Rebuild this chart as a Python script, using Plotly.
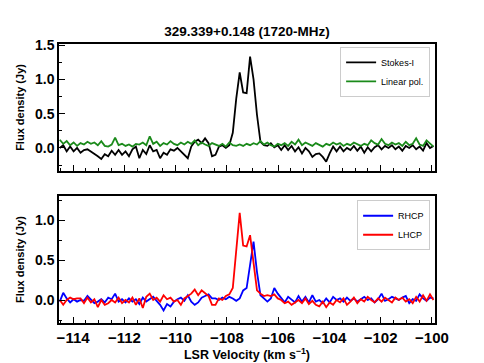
import numpy as np
import plotly.graph_objects as go

# channel grid (first channel and channel width, km/s)
v_start = -114.52
dv = 0.135

stokes_i = [0.00, 0.04, -0.05, 0.02, -0.05, 0.00, -0.07, -0.03, -0.02, -0.05,
            -0.09, -0.12, -0.16, -0.09, -0.12, -0.04, -0.10, -0.03, -0.10, -0.05,
            -0.12, -0.02, 0.02, -0.15, -0.03, -0.09, 0.04, -0.05, -0.03, -0.15,
            -0.07, -0.10, -0.02, -0.04, 0.00, -0.05, -0.10, -0.15, 0.02, 0.09,
            0.12, 0.07, 0.14, 0.07, -0.12, -0.10, 0.02, 0.04, 0.00, 0.04,
            0.22, 0.72, 1.10, 0.81, 0.80, 1.33, 1.00, 0.48, 0.09, 0.04,
            0.03, 0.07, 0.01, 0.04, -0.03, 0.04, -0.03, 0.03, -0.05, 0.01,
            -0.08, 0.00, -0.05, -0.13, -0.09, -0.08, -0.13, -0.20, -0.08, 0.02,
            -0.05, 0.02, -0.05, 0.00, -0.03, 0.03, -0.04, 0.02, -0.07, 0.01,
            -0.05, 0.01, 0.04, -0.02, 0.03, 0.00, 0.04, -0.02, 0.02, -0.04,
            0.03, 0.00, 0.04, -0.02, 0.02, -0.04, 0.07, 0.00, 0.03]

linear_pol = [0.12, 0.06, 0.10, 0.04, 0.08, 0.03, 0.07, 0.05, 0.09, 0.06,
              0.08, 0.04, 0.10, 0.03, 0.02, 0.05, 0.15, 0.04, 0.06, 0.03,
              0.05, 0.02, 0.06, 0.05, 0.08, 0.04, 0.17, 0.06, 0.09, 0.03,
              0.07, 0.05, 0.10, 0.06, 0.04, 0.08, 0.05, 0.09, 0.06, 0.11,
              0.04, 0.08, 0.05, 0.03, 0.07, 0.05, 0.03, 0.06, 0.02, 0.08,
              0.04, 0.03, 0.05, 0.03, 0.06, 0.04, 0.07, 0.05, 0.10, 0.05,
              0.08, 0.04, 0.02, 0.06, 0.04, 0.07, 0.03, 0.09, 0.05, 0.12,
              0.04, 0.08, 0.06, 0.03, 0.07, 0.05, 0.02, 0.06, 0.04, 0.08,
              0.05, 0.07, 0.03, 0.06, 0.04, 0.08, 0.05, 0.03, 0.06, 0.04,
              0.11, 0.07, 0.05, 0.13, 0.06, 0.04, 0.08, 0.05, 0.07, 0.03,
              0.09, 0.04, 0.06, 0.14, 0.05, 0.03, 0.11, 0.06, 0.02]

rhcp = [-0.02, 0.09, 0.02, -0.03, 0.01, -0.02, 0.00, -0.01, 0.05, 0.01,
        -0.04, -0.02, 0.01, -0.03, 0.03, 0.01, 0.08, -0.02, 0.01, -0.03,
        0.02, -0.02, 0.01, -0.05, 0.03, -0.02, 0.01, 0.04, -0.01, -0.06,
        -0.13, -0.05, -0.08, -0.02, 0.01, 0.03, -0.01, 0.06, -0.02, -0.06,
        -0.03, 0.03, 0.05, 0.07, 0.02, 0.02, 0.00, 0.03, 0.01, 0.04,
        0.02, -0.01, 0.02, 0.12, 0.15, 0.45, 0.73, 0.35, 0.06, 0.02,
        -0.02, 0.02, 0.15, 0.08, 0.02, -0.03, 0.04, 0.00, -0.03, 0.05,
        -0.02, 0.04, -0.03, 0.06, -0.02, 0.00, -0.04, 0.02, -0.03, 0.04,
        0.00, 0.02, -0.02, 0.03, -0.01, 0.02, -0.02, 0.01, 0.04, 0.00,
        0.02, -0.03, 0.01, 0.08, -0.01, 0.01, 0.04, 0.02, 0.00, 0.03,
        0.05, -0.04, 0.01, -0.01, 0.07, 0.02, -0.01, 0.03, 0.02]

lhcp = [0.00, -0.06, 0.00, 0.03, 0.01, 0.02, 0.02, -0.04, 0.03, -0.03,
        0.01, -0.09, 0.00, -0.06, -0.04, 0.00, -0.03, 0.03, -0.04, 0.00,
        -0.03, 0.03, -0.06, 0.02, -0.10, 0.04, 0.08, 0.00, 0.03, -0.02,
        0.06, 0.01, 0.03, -0.02, 0.00, -0.06, 0.02, 0.05, 0.08, 0.13,
        0.06, 0.12, 0.08, 0.05, -0.06, -0.06, 0.02, 0.00, 0.05, 0.07,
        0.15, 0.65, 1.09, 0.68, 0.67, 0.81, 0.45, 0.12, 0.08, 0.05,
        0.06, 0.05, 0.07, 0.02, 0.00, -0.04, -0.02, -0.06, -0.03, 0.00,
        -0.04, 0.02, -0.05, -0.01, -0.06, -0.08, -0.02, -0.09, -0.03, -0.06,
        0.00, -0.03, 0.02, -0.06, -0.02, 0.03, -0.04, 0.01, -0.02, 0.04,
        0.00, -0.03, 0.02, -0.02, 0.03, 0.00, -0.03, 0.03, 0.00, 0.03,
        -0.02, 0.01, -0.04, 0.04, -0.02, 0.06, -0.01, 0.07, 0.00]

vel = v_start + dv * np.arange(len(stokes_i))

font = "Liberation Sans"

fig = go.Figure()
fig.add_trace(go.Scatter(x=vel, y=stokes_i, mode="lines", name="Stokes-I",
                         line=dict(color="black", width=1.8), xaxis="x", yaxis="y",
                         legend="legend"))
fig.add_trace(go.Scatter(x=vel, y=linear_pol, mode="lines", name="Linear pol.",
                         line=dict(color="#1a8a1a", width=1.8), xaxis="x", yaxis="y",
                         legend="legend"))
fig.add_trace(go.Scatter(x=vel, y=rhcp, mode="lines", name="RHCP",
                         line=dict(color="blue", width=1.8), xaxis="x2", yaxis="y2",
                         legend="legend2"))
fig.add_trace(go.Scatter(x=vel, y=lhcp, mode="lines", name="LHCP",
                         line=dict(color="red", width=1.8), xaxis="x2", yaxis="y2",
                         legend="legend2"))

xcommon = dict(range=[-114.55, -99.88], showgrid=False, zeroline=False,
               showline=True, linecolor="black", linewidth=1.5, mirror=True,
               ticks="inside", ticklen=6, tickwidth=1, tickcolor="black",
               dtick=2, tick0=-114, automargin=False,
               minor=dict(ticks="inside", ticklen=3, dtick=0.5, tickcolor="black"),
               tickfont=dict(family=font, size=15, color="black", weight="bold"))
ycommon = dict(showgrid=False, zeroline=False, showline=True, linecolor="black",
               linewidth=1.5, mirror=True, ticks="inside", ticklen=6, tickwidth=1,
               tickcolor="black", dtick=0.5, tick0=0, tickformat=".1f",
               automargin=False,
               minor=dict(ticks="inside", ticklen=3, dtick=0.25, tickcolor="black"),
               tickfont=dict(family=font, size=14, color="black", weight="bold"),
               title=dict(text="Flux density (Jy)", standoff=8,
                          font=dict(family=font, size=11, color="black", weight="bold")))

# the page body adds an 8 px offset, so the margins are shifted to compensate
fig.update_layout(
    width=484, height=363,
    margin=dict(l=51, r=57, t=36, b=48),
    paper_bgcolor="white", plot_bgcolor="white",
    title=dict(text="329.339+0.148 (1720-MHz)", x=0.5, xref="paper", xanchor="center",
               y=0.937, yanchor="middle", automargin=False,
               font=dict(family=font, size=13.5, color="black", weight="bold")),
    xaxis=dict(xcommon, domain=[0, 1], anchor="y", showticklabels=False),
    yaxis=dict(ycommon, domain=[0.545, 1], anchor="x", range=[-0.335, 1.515]),
    xaxis2=dict(xcommon, domain=[0, 1], anchor="y2",
                title=dict(text="LSR Velocity (km s<sup>−1</sup>)", standoff=3,
                           font=dict(family=font, size=12.5, color="black", weight="bold"))),
    yaxis2=dict(ycommon, domain=[0, 0.455], anchor="x2", range=[-0.2875, 1.3]),
    legend=dict(x=0.987, y=0.99, xanchor="right", yanchor="top",
                bgcolor="white", bordercolor="#cccccc", borderwidth=1,
                font=dict(family=font, size=9, color="black"),
                tracegroupgap=0, itemwidth=30),
    legend2=dict(x=0.987, y=0.44, xanchor="right", yanchor="top",
                 bgcolor="white", bordercolor="#cccccc", borderwidth=1,
                 font=dict(family=font, size=9, color="black"),
                 tracegroupgap=0, itemwidth=30),
)

fig.write_html("out.html")
